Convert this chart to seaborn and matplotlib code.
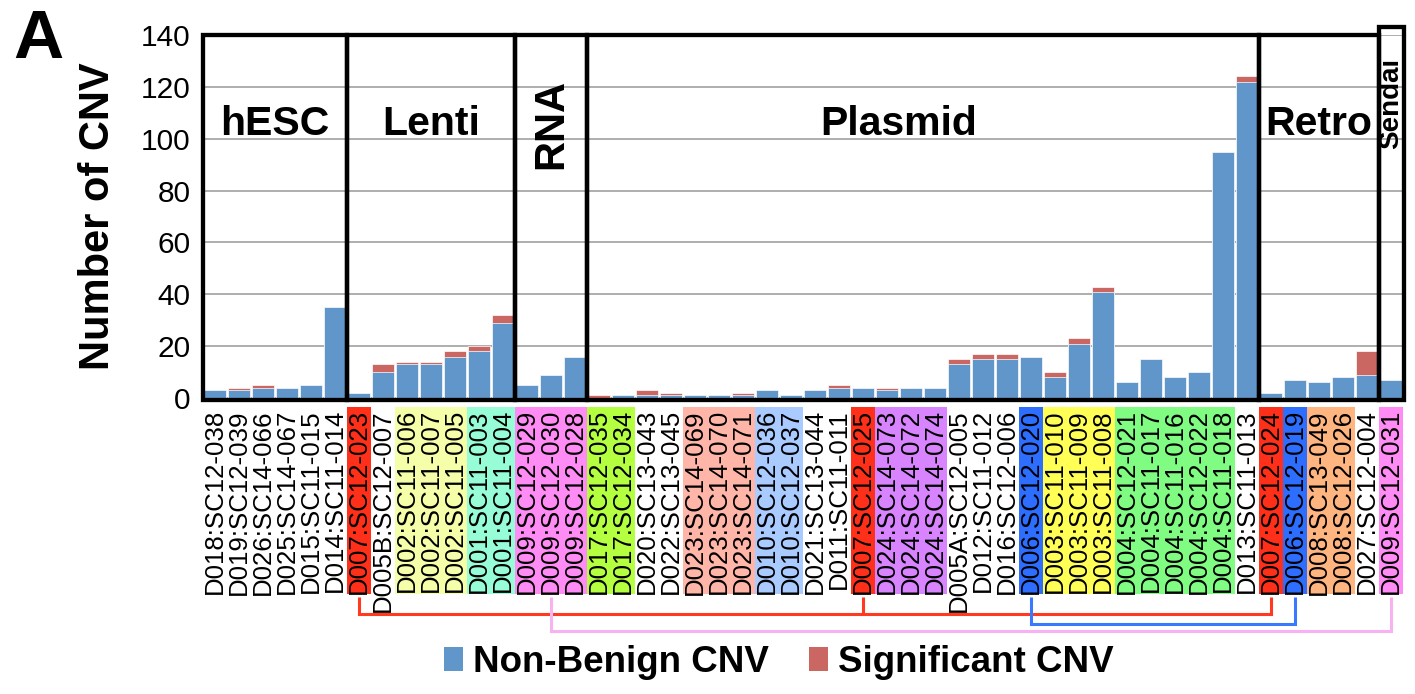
import matplotlib
matplotlib.use("Agg")
import matplotlib.pyplot as plt
import seaborn as sns
import pandas as pd
from matplotlib.patches import Rectangle, Patch
from matplotlib.transforms import blended_transform_factory

# ---------------- data ----------------
samples = [
    "D018:SC12-038", "D019:SC12-039", "D026:SC14-066", "D025:SC14-067", "D015:SC11-015", "D014:SC11-014",
    "D007:SC12-023", "D005B:SC12-007", "D002:SC11-006", "D002:SC11-007", "D002:SC11-005", "D001:SC11-003", "D001:SC11-004",
    "D009:SC12-029", "D009:SC12-030", "D009:SC12-028",
    "D017:SC12-035", "D017:SC12-034", "D020:SC13-043", "D022:SC13-045", "D023:SC14-069", "D023:SC14-070",
    "D023:SC14-071", "D010:SC12-036", "D010:SC12-037", "D021:SC13-044", "D011:SC11-011", "D007:SC12-025",
    "D024:SC14-073", "D024:SC14-072", "D024:SC14-074", "D005A:SC12-005", "D012:SC11-012", "D016:SC12-006",
    "D006:SC12-020", "D003:SC11-010", "D003:SC11-009", "D003:SC11-008", "D004:SC12-021", "D004:SC11-017",
    "D004:SC11-016", "D004:SC12-022", "D004:SC11-018", "D013:SC11-013",
    "D007:SC12-024", "D006:SC12-019", "D008:SC13-049", "D008:SC12-026", "D027:SC12-004",
    "D009:SC12-031",
]
non_benign = [3, 3, 4, 4, 5, 35,
              2, 10, 13, 13, 16, 18, 29,
              5, 9, 16,
              0, 1, 1, 1, 1, 1, 1, 3, 1, 3, 4, 4, 3, 4, 4, 13, 15, 15, 16, 8, 21, 41, 6, 15, 8, 10, 95, 122,
              2, 7, 6, 8, 9,
              7]
significant = [0, 1, 1, 0, 0, 0,
               0, 3, 1, 1, 2, 2, 3,
               0, 0, 0,
               1, 0, 2, 1, 0, 0, 1, 0, 0, 0, 1, 0, 1, 0, 0, 2, 2, 2, 0, 2, 2, 2, 0, 0, 0, 0, 0, 2,
               0, 0, 0, 0, 9,
               0]
group_names = ["hESC", "Lenti", "RNA", "Plasmid", "Retro", "Sendai"]
group_sizes = [6, 7, 3, 28, 5, 1]
series_names = ["Non-Benign CNV", "Significant CNV"]
# shared donors linked below the labels
links = [
    (["D007:SC12-023", "D007:SC12-025", "D007:SC12-024"], "red"),
    (["D006:SC12-020", "D006:SC12-019"], "blue"),
    (["D009:SC12-030", "D009:SC12-031"], "pink"),
]

# ---------------- style ----------------
BLUE = "#6096C9"
RED = "#CB6762"
donor_colors = {
    "D007": "#FF3019", "D002": "#F5FEA8", "D001": "#96FDD6", "D009": "#FF8CF4",
    "D017": "#B4FF40", "D023": "#FFB6A8", "D010": "#AACBFF", "D024": "#D884FF",
    "D006": "#2D6EFF", "D003": "#FFFF55", "D004": "#80FC82", "D008": "#FFB580",
}
link_colors = {"red": "#FF3A20", "blue": "#3A78FF", "pink": "#F8B2F2"}
link_levels = {"red": 614, "blue": 624, "pink": 631}   # pixel rows

sns.set_style("white")
plt.rcParams["font.family"] = ["Liberation Sans", "DejaVu Sans"]
plt.rcParams["text.color"] = "black"
plt.rcParams["axes.labelcolor"] = "black"

W, H = 1415, 694
fig = plt.figure(figsize=(W / 100, H / 100), dpi=100)
ax_left, ax_right, ax_top, ax_bot = 203, 1404, 35, 398
ax = fig.add_axes([ax_left / W, 1 - ax_bot / H, (ax_right - ax_left) / W, (ax_bot - ax_top) / H])

df = pd.DataFrame({"sample": samples, "non_benign": non_benign, "significant": significant})
df["total"] = df["non_benign"] + df["significant"]

sns.barplot(data=df, x="sample", y="total", order=samples, color=RED, saturation=1,
            width=0.92, edgecolor="white", linewidth=0.5, ax=ax, zorder=2)
sns.barplot(data=df, x="sample", y="non_benign", order=samples, color=BLUE, saturation=1,
            width=0.92, edgecolor="white", linewidth=0.5, ax=ax, zorder=3)

ax.set_xlim(-0.5, 49.55)
ax.set_ylim(0, 140)
ax.set_yticks(range(0, 141, 20))
ax.yaxis.grid(True, color="#A8A8A8", lw=1.3)
ax.xaxis.grid(False)
ax.set_axisbelow(True)
for s in ax.spines.values():
    s.set_visible(False)

ax.set_xticks(range(len(samples)))
ax.set_xticklabels(samples, rotation=90, fontsize=18.6)
ax.set_xticks([i + 0.5 for i in range(len(samples) - 1)], minor=True)
ax.tick_params(axis="x", which="major", length=0, pad=8, labelcolor="black")
ax.tick_params(axis="x", which="minor", length=4, width=1, color="#A8A8A8")
ax.tick_params(axis="y", length=6, width=1.3, color="#A8A8A8", pad=3, labelsize=21.5,
               labelcolor="black")
ax.set_xlabel("")
ax.set_ylabel("Number of CNV", fontsize=30, fontweight="bold", color="black")
ax.yaxis.set_label_coords(-0.071, 0.5)

# group boxes and names (bottom edge sits just below the bar baseline)
base = -0.85
start = 0
for name, size in zip(group_names, group_sizes):
    x0 = start - 0.5
    if name == "Sendai":
        ax.add_patch(Rectangle((x0, base), 49.55 - x0, 143 - base, fill=False, ec="black", lw=3.1,
                               clip_on=False, zorder=6))
        ax.text(start, 113.5, name, rotation=90, ha="center", va="center",
                fontsize=20, fontweight="bold", zorder=7)
    else:
        ax.add_patch(Rectangle((x0, base), size, 140 - base, fill=False, ec="black", lw=3.1,
                               clip_on=False, zorder=6))
        cx = x0 + size / 2
        if name == "RNA":
            ax.text(cx, 105.5, name, rotation=90, ha="center", va="center",
                    fontsize=30, fontweight="bold", zorder=7)
        else:
            if name == "Plasmid":
                cx -= 1.0
            ax.text(cx, 101.5, name, ha="center", va="baseline",
                    fontsize=29.5, fontweight="bold", zorder=7)
    start += size

# coloured label backgrounds
trans = blended_transform_factory(ax.transData, ax.transAxes)
ax_h = ax_bot - ax_top
def px_to_axes(py):
    return (ax_bot - py) / ax_h

box_top, box_bot = px_to_axes(407), px_to_axes(594)
for i, s in enumerate(samples):
    donor = s.split(":")[0]
    c = donor_colors.get(donor)
    if c:
        ax.add_patch(Rectangle((i - 0.5, box_bot), 1, box_top - box_bot, transform=trans,
                               fc=c, ec="none", clip_on=False, zorder=0))

# donor link brackets
for names, key in links:
    idx = [samples.index(n) for n in names]
    yl = px_to_axes(link_levels[key])
    for k in idx:
        ax.plot([k, k], [box_bot - 0.008, yl], transform=trans, clip_on=False,
                color=link_colors[key], lw=2.2, solid_capstyle="butt")
    ax.plot([min(idx), max(idx)], [yl, yl], transform=trans, clip_on=False,
            color=link_colors[key], lw=2.2, solid_capstyle="projecting")

# legend
handles = [Patch(fc=BLUE, ec="none"), Patch(fc=RED, ec="none")]
fig.legend(handles, series_names, loc="center", bbox_to_anchor=(0.5505, 0.045), ncol=2,
           frameon=False, prop={"weight": "bold", "size": 26.5}, handlelength=0.52,
           handleheight=0.62, handletextpad=0.27, columnspacing=1.1)

fig.text(38 / W, 1 - 40 / H, "A", fontsize=50, fontweight="bold", ha="center", va="center")

fig.savefig("out.png", dpi=100)
